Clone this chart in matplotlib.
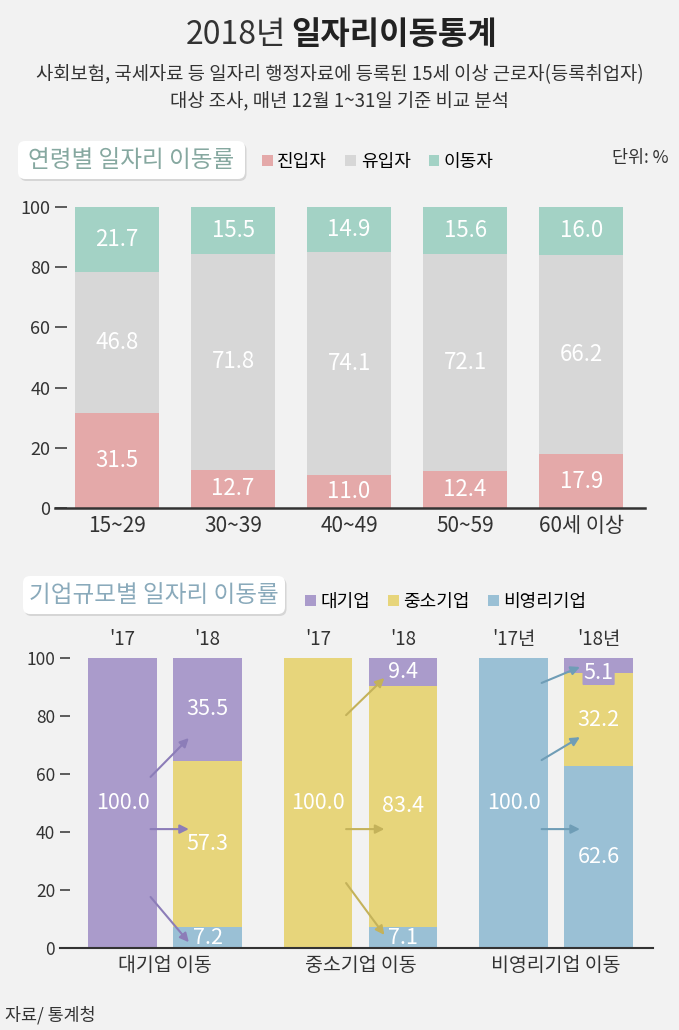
import numpy as np
import matplotlib
matplotlib.use('Agg')
import matplotlib.pyplot as plt
from matplotlib.patches import FancyBboxPatch

plt.rcParams['font.family'] = ['Noto Sans CJK KR', 'DejaVu Sans']

# 연령별 일자리 이동률 (%)
age_groups = ['15~29', '30~39', '40~49', '50~59', '60세 이상']
new_entry = [31.5, 12.7, 11.0, 12.4, 17.9]   # 진입자
inflow = [46.8, 71.8, 74.1, 72.1, 66.2]      # 유입자
moved = [21.7, 15.5, 14.9, 15.6, 16.0]       # 이동자

# 기업규모별 일자리 이동률 (%)
move_groups = ['대기업 이동', '중소기업 이동', '비영리기업 이동']
year_17 = ["'17", "'17", "'17년"]
year_18 = ["'18", "'18", "'18년"]
base_17 = [100.0, 100.0, 100.0]
big_18 = [35.5, 9.4, 5.1]          # 대기업
sme_18 = [57.3, 83.4, 32.2]        # 중소기업
nonprofit_18 = [7.2, 7.1, 62.6]    # 비영리기업

# 화살표 위치 (시작 높이, 끝 높이) - 그룹별, 위/가운데/아래
arrows = [
    [(59, 72.4), (41, 41), (17.6, 2)],
    [(80.3, 93.1), (41, 41), (22.4, 4.5)],
    [(91.4, 96.9), (64.8, 72.7), (41, 41)],
]

bg = '#f2f2f2'
dark = '#333333'
pink, gray, teal = '#e4a9a9', '#d7d7d7', '#a3d2c5'
purple, yellow, blue = '#aa9bcb', '#e7d57b', '#9ac0d5'
arrow_cols = ['#8c7db8', '#c4b25a', '#6f9db6']

fig = plt.figure(figsize=(6.79, 10.30), dpi=100, facecolor=bg)

# 제목
fig.text(286/679, 1 - 35/1030, '2018년', ha='right', va='center', fontsize=23,
         color=dark, fontweight='light')
fig.text(291/679, 1 - 35/1030, '일자리이동통계', ha='left', va='center', fontsize=23,
         color='#222222', fontweight='bold')
fig.text(0.5, 1 - 75/1030, '사회보험, 국세자료 등 일자리 행정자료에 등록된 15세 이상 근로자(등록취업자)',
         ha='center', va='center', fontsize=13.5, color=dark)
fig.text(0.5, 1 - 102/1030, '대상 조사, 매년 12월 1~31일 기준 비교 분석',
         ha='center', va='center', fontsize=13.5, color=dark)


def title_box(x0, y0, w, h, text, col):
    tr = fig.dpi_scale_trans
    shadow = FancyBboxPatch((x0 + 0.015, y0 - 0.02), w, h, boxstyle='round,pad=0,rounding_size=0.07',
                            transform=tr, fc='#d6d6d6', ec='none')
    box = FancyBboxPatch((x0, y0), w, h, boxstyle='round,pad=0,rounding_size=0.07',
                         transform=tr, fc='white', ec='none')
    fig.patches.extend([shadow, box])
    fig.text(x0 + w / 2, y0 + h / 2, text, transform=tr, ha='center', va='center',
             fontsize=17, color=col)


title_box(0.18, 8.51, 2.27, 0.38, '연령별 일자리 이동률', '#86a8a0')
title_box(0.23, 4.16, 2.62, 0.38, '기업규모별 일자리 이동률', '#8aaabb')

fig.text(668/679, 1 - 158/1030, '단위: %', ha='right', va='center', fontsize=12.5, color=dark)
fig.text(5/679, 1 - 1015/1030, '자료/ 통계청', ha='left', va='center', fontsize=12.5, color=dark)

# 위쪽: 연령별
ax1 = fig.add_axes([55/679, 1 - 508/1030, 590/679, 301/1030])
ax1.set_facecolor(bg)
x1 = np.arange(len(age_groups))
w1 = 0.72
bot2 = np.array(new_entry)
bot3 = bot2 + np.array(inflow)
h1 = ax1.bar(x1, new_entry, w1, color=pink, label='진입자')
h2 = ax1.bar(x1, inflow, w1, bottom=bot2, color=gray, label='유입자')
h3 = ax1.bar(x1, moved, w1, bottom=bot3, color=teal, label='이동자')
for vals, bots in [(new_entry, np.zeros(5)), (inflow, bot2), (moved, bot3)]:
    for x, v, b in zip(x1, vals, bots):
        ax1.text(x, b + v / 2, f'{v:.1f}', ha='center', va='center', color='white', fontsize=16)
ax1.set_xlim(-0.534, 4.55)
ax1.set_ylim(0, 100)
ax1.set_yticks([0, 20, 40, 60, 80, 100])
ax1.tick_params(axis='y', direction='in', length=8.6, width=1.1, color=dark,
                labelsize=13, pad=3.5, labelcolor=dark)
ax1.set_xticks(x1, age_groups)
ax1.tick_params(axis='x', length=0, labelsize=15, pad=5, labelcolor=dark)
for s in ['top', 'right', 'left']:
    ax1.spines[s].set_visible(False)
ax1.spines['bottom'].set_color(dark)
ax1.spines['bottom'].set_linewidth(1.8)
fig.legend([h1, h2, h3], ['진입자', '유입자', '이동자'], loc='center left',
           bbox_to_anchor=(262/679, 1 - 162/1030), ncol=3, frameon=False, fontsize=13,
           handlelength=0.6, handleheight=0.6, handletextpad=0.25, columnspacing=1.0,
           borderpad=0, borderaxespad=0)

# 아래쪽: 기업규모별
ax2 = fig.add_axes([60/679, 1 - 948/1030, 593/679, 290/1030])
ax2.set_facecolor(bg)
gx = np.arange(len(move_groups)) * 2.3
x17 = gx - 0.5
x18 = gx + 0.5
w2 = 0.81
ax2.bar(x17, base_17, w2, color=[purple, yellow, blue])
np18 = np.array(nonprofit_18)
sm18 = np.array(sme_18)
g3 = ax2.bar(x18, nonprofit_18, w2, color=blue, label='비영리기업')
g2 = ax2.bar(x18, sme_18, w2, bottom=np18, color=yellow, label='중소기업')
g1 = ax2.bar(x18, big_18, w2, bottom=np18 + sm18, color=purple, label='대기업')

for x, v in zip(x17, base_17):
    ax2.text(x, v / 2, f'{v:.1f}', ha='center', va='center', color='white', fontsize=15.5)
for vals, bots, col in [(nonprofit_18, np.zeros(3), blue), (sme_18, np18, yellow),
                        (big_18, np18 + sm18, purple)]:
    for x, v, b in zip(x18, vals, bots):
        kw = {}
        if v < 6:
            kw['bbox'] = dict(boxstyle='round,pad=0.05', fc=col, ec='none')
            yy = b + v / 2 - 2.5
        else:
            yy = b + v / 2
        ax2.text(x, yy, f'{v:.1f}', ha='center', va='center', color='white', fontsize=15.5, **kw)

for x, a, b in zip(x17, year_17, year_18):
    ax2.annotate(a, (x, 100), xytext=(0, 6), textcoords='offset points', ha='center',
                 va='bottom', fontsize=13.5, color=dark)
    ax2.annotate(b, (x + 1, 100), xytext=(0, 6), textcoords='offset points', ha='center',
                 va='bottom', fontsize=13.5, color=dark)

for g, arr, col in zip(gx, arrows, arrow_cols):
    for y0, y1 in arr:
        ax2.annotate('', xy=(g + 0.28, y1), xytext=(g - 0.17, y0),
                     arrowprops=dict(arrowstyle='-|>', color=col, lw=1.5, mutation_scale=13,
                                     shrinkA=0, shrinkB=0))

ax2.set_xlim(-1.235, 5.74)
ax2.set_ylim(0, 100)
ax2.set_yticks([0, 20, 40, 60, 80, 100])
ax2.tick_params(axis='y', direction='in', length=7.2, width=1.1, color=dark,
                labelsize=12.5, pad=3.5, labelcolor=dark)
ax2.set_xticks(gx, move_groups)
ax2.tick_params(axis='x', length=0, labelsize=14, pad=5, labelcolor=dark)
for s in ['top', 'right', 'left']:
    ax2.spines[s].set_visible(False)
ax2.spines['bottom'].set_color(dark)
ax2.spines['bottom'].set_linewidth(1.5)
fig.legend([g1, g2, g3], ['대기업', '중소기업', '비영리기업'], loc='center left',
           bbox_to_anchor=(305/679, 1 - 602/1030), ncol=3, frameon=False, fontsize=13,
           handlelength=0.6, handleheight=0.6, handletextpad=0.25, columnspacing=1.0,
           borderpad=0, borderaxespad=0)

fig.savefig('out.png', dpi=100, facecolor=bg)
